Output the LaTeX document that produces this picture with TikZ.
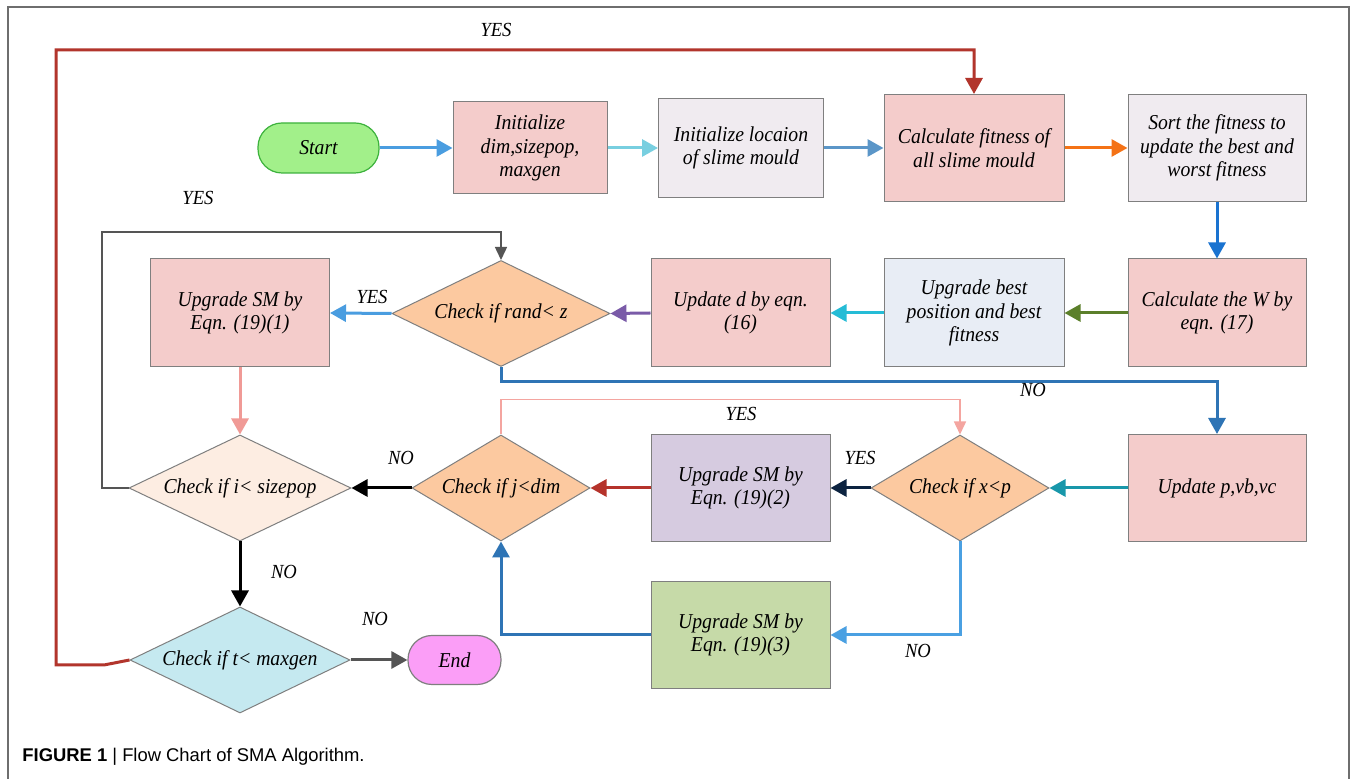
\documentclass[tikz,border=0pt]{standalone}
\usepackage{fontspec}
\setmainfont{Liberation Serif}
\setsansfont{Liberation Sans}
\newfontfamily\boxfont[FakeStretch=0.93]{Liberation Serif}
\usetikzlibrary{shapes.geometric,arrows.meta}
\definecolor{bordergray}{HTML}{7F7F7F}
\definecolor{framegray}{HTML}{6E6E6E}
\definecolor{pinkfill}{HTML}{F4CCCB}
\definecolor{mauvefill}{HTML}{F0EBF0}
\definecolor{bluegrayfill}{HTML}{E8EDF5}
\definecolor{orangefill}{HTML}{FCC9A0}
\definecolor{peachfill}{HTML}{FDEDE2}
\definecolor{lavfill}{HTML}{D6CBE0}
\definecolor{greenfill}{HTML}{C6DAA8}
\definecolor{cyanfill}{HTML}{C5E9F0}
\definecolor{startfill}{HTML}{A2F08A}
\definecolor{startborder}{HTML}{3DB23D}
\definecolor{endfill}{HTML}{FB9EF7}
\definecolor{cA}{HTML}{4A9DE0}
\definecolor{cB}{HTML}{78CFE0}
\definecolor{cC}{HTML}{5B96C8}
\definecolor{cD}{HTML}{F47216}
\definecolor{cE}{HTML}{1A73D0}
\definecolor{cF}{HTML}{5B7F2A}
\definecolor{cG}{HTML}{25BCD6}
\definecolor{cH}{HTML}{7A5BA8}
\definecolor{cI}{HTML}{2E74B5}
\definecolor{cJ}{HTML}{F09A96}
\definecolor{cK}{HTML}{F4A5A0}
\definecolor{cL}{HTML}{1897AA}
\definecolor{cM}{HTML}{0C2340}
\definecolor{cN}{HTML}{B5332B}
\definecolor{cO}{HTML}{4AA0E2}
\definecolor{cP}{HTML}{555555}
\definecolor{cR}{HTML}{B2352C}
\tikzset{
  txt/.style={font=\boxfont\fontsize{10.6}{11.7}\selectfont\itshape, align=center},
  box/.style={txt, draw=bordergray, line width=0.5pt, inner sep=0pt, rectangle},
  dia/.style={txt, draw=bordergray, line width=0.5pt, inner sep=0pt, diamond, shape aspect=2},
  term/.style={txt, rectangle, rounded corners=12pt, line width=0.6pt, inner sep=0pt},
  lbl/.style={font=\boxfont\fontsize{10}{11}\selectfont\itshape, inner sep=1pt},
  thk/.style={line width=1.5pt, -{Triangle[length=8pt,width=8.5pt]}},
  thn/.style={line width=0.75pt, -{Triangle[length=6.5pt,width=6pt]}},
}
\begin{document}
\begin{tikzpicture}[x=0.5pt,y=-0.5pt]
\useasboundingbox (0,0) rectangle (1356,779);
\fill[white] (0,0) rectangle (1356,779);
\draw[framegray, line width=0.75pt] (8,800) -- (8,7) -- (1349,7) -- (1349,800);

% nodes
\node[term, draw=startborder, fill=startfill, minimum width=60.5pt, minimum height=25pt] (start) at (318.5,148) {Start};
\node[box, fill=pinkfill, minimum width=77pt, minimum height=46pt] (init1) at (530,148) {Initialize\\dim,sizepop,\\maxgen};
\node[box, fill=mauvefill, minimum width=82.5pt, minimum height=49.5pt] (init2) at (741,148) {Initialize locaion\\of slime mould};
\node[box, fill=pinkfill, minimum width=90pt, minimum height=53.5pt] (calc) at (974,148) {Calculate fitness of\\all slime mould};
\node[box, fill=mauvefill, minimum width=89pt, minimum height=53.5pt] (sort) at (1217,148) {Sort the fitness to\\update the best and\\worst fitness};
\node[box, fill=pinkfill, minimum width=89pt, minimum height=54pt] (calcw) at (1217,313) {Calculate the W by\\eqn. (17)};
\node[box, fill=bluegrayfill, minimum width=90pt, minimum height=54pt] (best) at (974,313) {Upgrade best\\position and best\\fitness};
\node[box, fill=pinkfill, minimum width=89.5pt, minimum height=54pt] (dupd) at (740.5,313) {Update d by eqn.\\(16)};
\node[dia, fill=orangefill, minimum width=109pt, minimum height=53pt] (rand) at (501,313.5) {Check if rand< z};
\node[box, fill=pinkfill, minimum width=89.5pt, minimum height=54pt] (sm1) at (240,313) {Upgrade SM by\\Eqn. (19)(1)};
\node[dia, fill=peachfill, minimum width=111pt, minimum height=53pt] (sizepop) at (240,488) {Check if i< sizepop};
\node[dia, fill=orangefill, minimum width=89pt, minimum height=53pt] (jdim) at (501,488) {Check if j<dim};
\node[box, fill=lavfill, minimum width=89.5pt, minimum height=53.5pt] (sm2) at (740.5,488) {Upgrade SM by\\Eqn. (19)(2)};
\node[dia, fill=orangefill, minimum width=89pt, minimum height=53pt] (xp) at (960,488) {Check if x<p};
\node[box, fill=pinkfill, minimum width=89pt, minimum height=53.5pt] (updp) at (1217,488) {Update p,vb,vc};
\node[box, fill=greenfill, minimum width=89.5pt, minimum height=53.5pt] (sm3) at (740.5,635) {Upgrade SM by\\Eqn. (19)(3)};
\node[dia, fill=cyanfill, minimum width=110pt, minimum height=53pt] (maxgen) at (240,660) {Check if t< maxgen};
\node[term, draw=bordergray, fill=endfill, minimum width=46.5pt, minimum height=24.5pt] (end) at (454.5,660) {End};

% connectors
\draw[thk, cA] (start) -- (init1);
\draw[thk, cB] (init1) -- (init2);
\draw[thk, cC] (init2) -- (calc);
\draw[thk, cD] (calc) -- (sort);
\draw[thk, cE] (sort) -- (calcw);
\draw[thk, cF] (calcw) -- (best);
\draw[thk, cG] (best) -- (dupd);
\draw[thk, cH] (dupd.west) -- (rand.east);
\draw[thk, cA] (rand.west) -- (sm1.east);
\draw[thk, cI] (rand.south) -- ++(0,15) -| (updp.north);
\draw[thk, cJ] (sm1.south) -- (sizepop.north);
\draw[thn, cP] (sizepop.west) -| (102,232) -| (rand.north);
\draw[thn, cK] (jdim.north) -- ++(0,-35) -| (xp.north);
\draw[thk, cL] (updp.west) -- (xp.east);
\draw[thk, cM] (xp.west) -- (sm2.east);
\draw[thk, cN] (sm2.west) -- (jdim.east);
\draw[thk, black] (jdim.west) -- (sizepop.east);
\draw[thk, cO] (xp.south) |- (sm3.east);
\draw[thk, cI] (sm3.west) -| (jdim.south);
\draw[thk, black] (sizepop.south) -- (maxgen.north);
\draw[thk, cP] (maxgen.east) -- (end.west);
\coordinate (rk) at (104,665);
\draw[thk, cR] (maxgen.west) -- (rk) -- (56,665) -- (56,50) -| (calc.north);

% labels
\node[lbl] (l1) at (496,30) {YES};
\node[lbl] (l2) at (198,198) {YES};
\node[lbl] (l3) at (372,297) {YES};
\node[lbl] (l4) at (1033,390) {NO};
\node[lbl] (l5) at (741,414) {YES};
\node[lbl] (l6) at (860,458) {YES};
\node[lbl] (l7) at (401,458) {NO};
\node[lbl] (l8) at (284,572) {NO};
\node[lbl] (l9) at (375,619) {NO};
\node[lbl] (l10) at (918,651) {NO};

\node[anchor=west, inner sep=0pt, font=\sffamily\fontsize{9.2}{11}\selectfont] (cap) at (22,757) {\textbf{FIGURE 1} | Flow Chart of SMA Algorithm.};
\end{tikzpicture}
\end{document}
